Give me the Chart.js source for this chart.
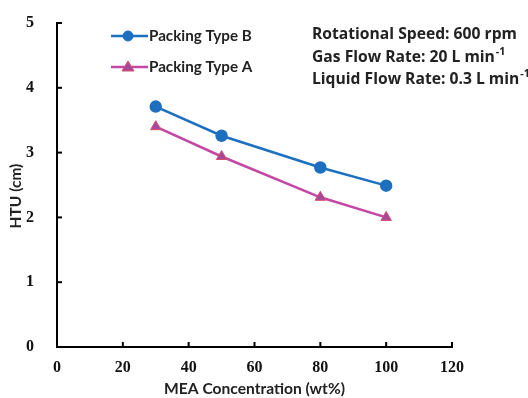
<!DOCTYPE html>
<html>
<head>
<meta charset="utf-8">
<script src="https://cdn.jsdelivr.net/npm/chart.js@4"></script>
<style>
  html, body { margin: 0; padding: 0; background: #fff; }
  #wrap { width: 528px; height: 398px; }
</style>
</head>
<body>
<div id="wrap"><canvas id="grafico" width="528" height="398"></canvas></div>
<script>
// dados
const concentracao = [30, 50, 80, 100];
const htuTipoB = [3.71, 3.26, 2.77, 2.49];
const htuTipoA = [3.40, 2.94, 2.31, 2.00];
const nomesSeries = ['Packing Type B', 'Packing Type A'];
const condicoes = [
    ['Rotational Speed: 600 rpm', ''],
    ['Gas Flow Rate: 20 L min', '-1'],
    ['Liquid Flow Rate: 0.3 L min', '-1']
];

const sans = 'Lato, "Open Sans", sans-serif';
const sans2 = '"Open Sans", Lato, sans-serif';
const serif = '"Liberation Serif", "DejaVu Serif", serif';

// ticks para dentro + legenda + texto das condicoes
const extras = {
    id: 'extras',
    afterDraw(chart) {
        const ctx = chart.ctx;
        const x = chart.scales.x, y = chart.scales.y;
        ctx.save();
        ctx.strokeStyle = '#000';
        ctx.lineWidth = 2;
        x.ticks.forEach(t => {
            const px = x.getPixelForValue(t.value);
            ctx.beginPath(); ctx.moveTo(px, y.bottom); ctx.lineTo(px, y.bottom - 5); ctx.stroke();
        });
        y.ticks.forEach(t => {
            const py = y.getPixelForValue(t.value);
            ctx.beginPath(); ctx.moveTo(x.left, py); ctx.lineTo(x.left + 5, py); ctx.stroke();
        });

        // titulo do eixo y
        ctx.save();
        ctx.translate(16, 196);
        ctx.rotate(-Math.PI / 2);
        ctx.font = 'bold 15.5px ' + sans;
        ctx.fillStyle = '#222';
        ctx.textAlign = 'center';
        ctx.textBaseline = 'middle';
        ctx.fillText('HTU (cm)', 0, 0);
        ctx.restore();

        // legenda
        const ds = chart.data.datasets;
        [36, 67].forEach((ly, i) => {
            const d = ds[i];
            ctx.strokeStyle = d.borderColor;
            ctx.lineWidth = 2.5;
            ctx.beginPath(); ctx.moveTo(111, ly); ctx.lineTo(148, ly); ctx.stroke();
            ctx.fillStyle = d.pointBackgroundColor;
            ctx.strokeStyle = d.pointBorderColor;
            ctx.lineWidth = 1;
            ctx.beginPath();
            if (i === 0) {
                ctx.arc(128, ly, 5, 0, Math.PI * 2);
            } else {
                ctx.moveTo(128, ly - 6); ctx.lineTo(134, ly + 4); ctx.lineTo(122, ly + 4); ctx.closePath();
            }
            ctx.fill(); ctx.stroke();
            ctx.fillStyle = '#222';
            ctx.font = 'bold 15.2px ' + sans;
            ctx.textBaseline = 'middle';
            ctx.fillText(nomesSeries[i], 149, ly);
        });

        // condicoes: tamanho da fonte ajustado para a 1a linha ter ~205px
        ctx.font = 'bold 15px ' + sans2;
        const tam = Math.min(17, 15 * 205 / ctx.measureText(condicoes[0][0]).width);
        condicoes.forEach((c, i) => {
            const ty = 35 + i * 22.5;
            ctx.font = 'bold ' + tam + 'px ' + sans2;
            ctx.fillStyle = '#222';
            ctx.textBaseline = 'middle';
            ctx.fillText(c[0], 312, ty);
            if (c[1]) {
                const w = ctx.measureText(c[0]).width;
                ctx.font = 'bold ' + (tam * 0.68) + 'px ' + sans2;
                ctx.fillText(c[1], 312 + w + 1, ty - 6);
            }
        });
        ctx.restore();
    }
};

function desenhar() {
    new Chart(document.getElementById('grafico'), {
        type: 'scatter',
        data: {
            datasets: [{
                label: nomesSeries[0],
                data: concentracao.map((c, i) => ({ x: c, y: htuTipoB[i] })),
                showLine: true,
                borderColor: '#1d6fbf',
                borderWidth: 2.5,
                pointStyle: 'circle',
                pointRadius: 5,
                pointBackgroundColor: '#1d6fbf',
                pointBorderColor: '#1d6fbf'
            }, {
                label: nomesSeries[1],
                data: concentracao.map((c, i) => ({ x: c, y: htuTipoA[i] })),
                showLine: true,
                borderColor: '#c447a4',
                borderWidth: 2.5,
                pointStyle: 'triangle',
                pointRadius: 6,
                pointBackgroundColor: '#a8489c',
                pointBorderColor: '#d4506a',
                pointBorderWidth: 1
            }]
        },
        options: {
            responsive: false,
            animation: false,
            layout: { padding: { top: 18, right: 76, left: 0, bottom: 0 } },
            plugins: { legend: { display: false }, tooltip: { enabled: false } },
            scales: {
                x: {
                    type: 'linear',
                    min: 0, max: 120,
                    ticks: { stepSize: 20, color: '#111', font: { family: serif, size: 16, weight: 'bold' }, padding: 3 },
                    grid: { display: false },
                    border: { color: '#000', width: 2 },
                    title: { display: true, text: 'MEA Concentration (wt%)', color: '#222', font: { family: sans, size: 15.6, weight: 'bold' }, padding: { top: 4, bottom: 0 } },
                    afterFit(s) { s.height = 51; }
                },
                y: {
                    min: 0, max: 5,
                    ticks: { stepSize: 1, color: '#111', font: { family: serif, size: 16, weight: 'bold', lineHeight: 1 }, padding: 15 },
                    grid: { display: false },
                    border: { color: '#000', width: 2 },
                    afterFit(s) { s.width = 57; }
                }
            }
        },
        plugins: [extras]
    });
}

Promise.all([
    document.fonts.load('bold 16px "Open Sans"'),
    document.fonts.load('bold 16px Lato'),
    document.fonts.load('bold 16px "Liberation Serif"')
]).then(desenhar, desenhar);
</script>
</body>
</html>
